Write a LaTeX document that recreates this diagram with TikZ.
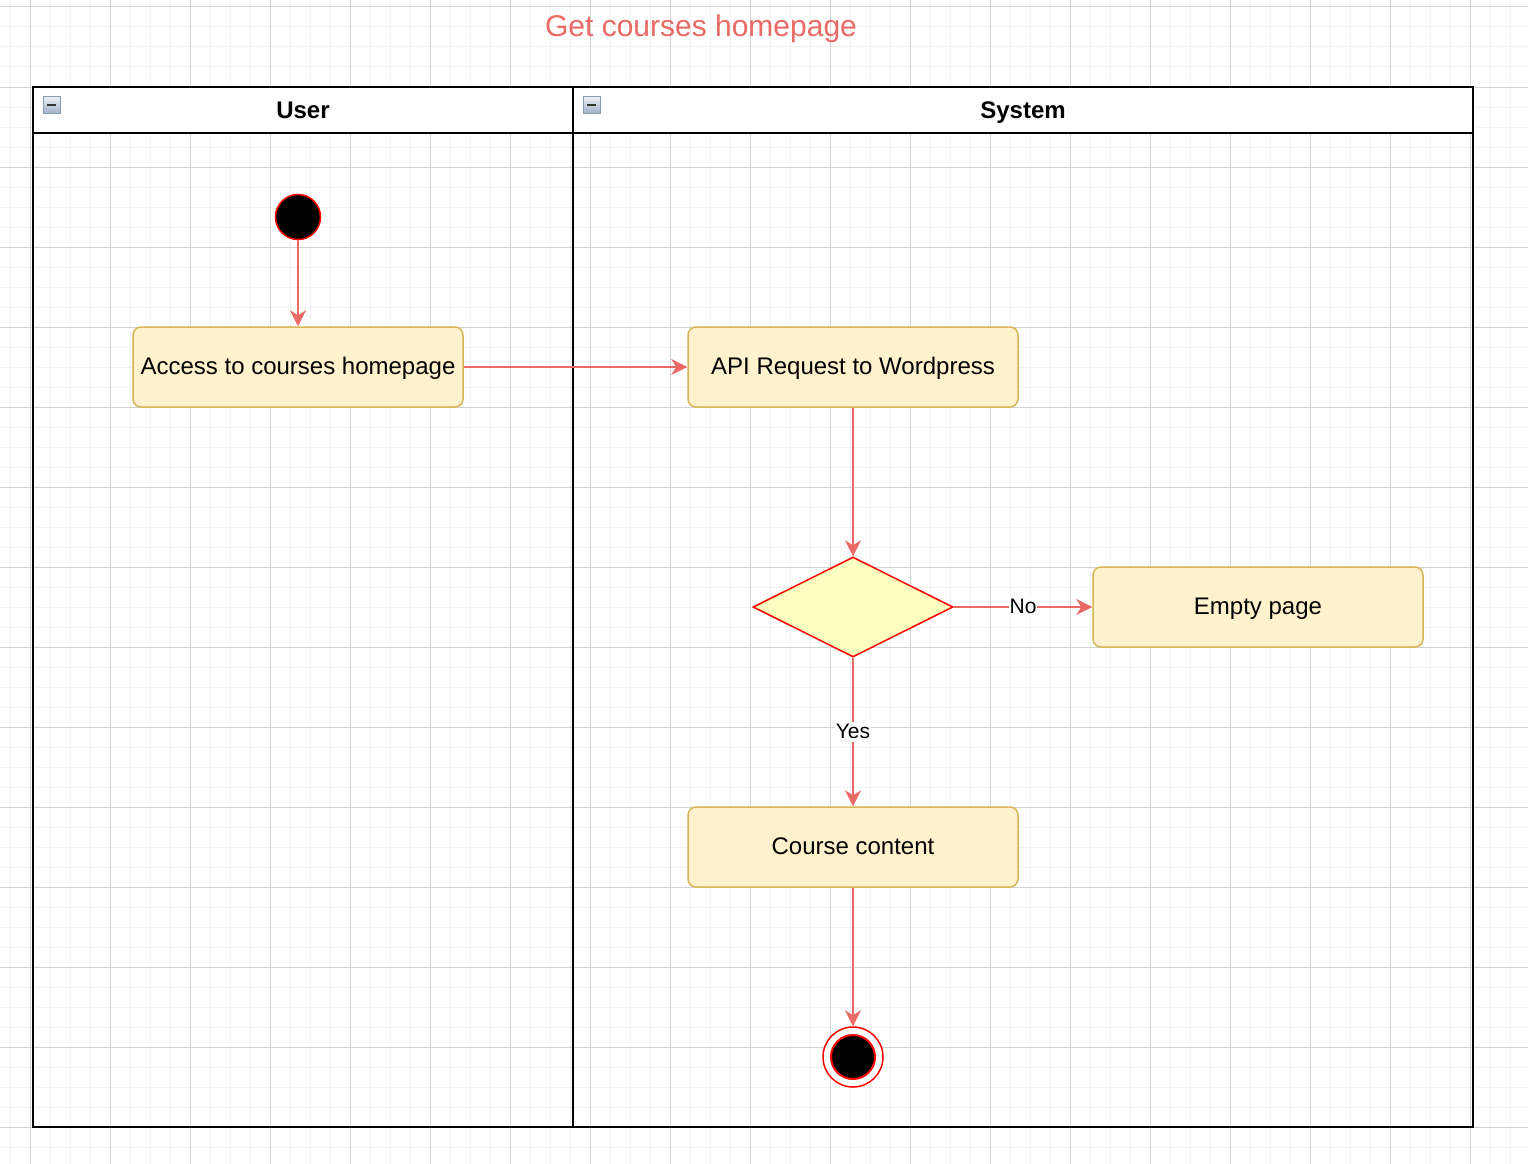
\documentclass[tikz,border=0pt]{standalone}
\usepackage{fontspec}
\setmainfont{Liberation Sans}
\usetikzlibrary{shapes.geometric,arrows.meta}
\definecolor{edgecol}{HTML}{EA6B66}
\definecolor{boxfill}{HTML}{FFF2CC}
\definecolor{boxline}{HTML}{D6B656}
\definecolor{dfill}{HTML}{FFFFC0}
\definecolor{minorgrid}{HTML}{F2F2F2}
\definecolor{majorgrid}{HTML}{D2D2D2}
\definecolor{icontop}{HTML}{EEF2F7}
\definecolor{iconbot}{HTML}{9DB0C6}
\definecolor{iconline}{HTML}{8C9DB2}
\tikzset{
  actbox/.style={rectangle, rounded corners=8pt, minimum width=330pt, minimum height=80pt,
    fill=boxfill, draw=boxline, line width=1.5pt, inner sep=0pt,
    font=\fontsize{24}{28}\selectfont, text height=17.5pt, text depth=2.3pt},
  decision/.style={diamond, minimum width=200pt, minimum height=100pt, inner sep=0pt,
    fill=dfill, draw=red, line width=1.5pt},
  startnode/.style={circle, minimum size=45pt, inner sep=0pt, fill=black, draw=red, line width=1.5pt},
  endouter/.style={circle, minimum size=60pt, inner sep=0pt, fill=white, draw=red, line width=1.5pt},
  endinner/.style={circle, minimum size=44pt, inner sep=0pt, fill=black, draw=red, line width=2pt},
  flow/.style={draw=edgecol, line width=1.5pt, -{Stealth[length=16pt,width=16pt,inset=5pt]}},
  elabel/.style={fill=white, inner sep=1pt, font=\fontsize{21}{24}\selectfont,
    text height=15.3pt, text depth=2.3pt},
  lanetitle/.style={font=\bfseries\fontsize{24}{28}\selectfont, text height=17.5pt, text depth=2.3pt},
  titletext/.style={text=edgecol, font=\fontsize{30}{34}\selectfont, text height=21.9pt, text depth=6.3pt},
  collapse/.style={rectangle, minimum size=17pt, inner sep=0pt, draw=iconline, line width=0.8pt,
    top color=icontop, bottom color=iconbot},
}
\begin{document}
\begin{tikzpicture}[x=1pt,y=-1pt]
\useasboundingbox (0,0) rectangle (1528,1164);
\fill[white] (0,0) rectangle (1528,1164);
% grid
\foreach \x in {10,30,...,1520} \draw[minorgrid,line width=1pt] (\x,0) -- (\x,1164);
\foreach \y in {7,27,...,1160} \draw[minorgrid,line width=1pt] (0,\y) -- (1528,\y);
\foreach \x in {30,110,...,1520} \draw[majorgrid,line width=1pt] (\x,0) -- (\x,1164);
\foreach \y in {7,87,...,1160} \draw[majorgrid,line width=1pt] (0,\y) -- (1528,\y);
% title
\node[titletext] (title) at (701,29) {Get courses homepage};
% pool
\fill[white] (33,87) rectangle (1473,133);
\draw[line width=2pt] (33,87) rectangle (1473,1127);
\draw[line width=2pt] (33,133) -- (1473,133);
\draw[line width=2pt] (573,87) -- (573,1127);
\node[collapse] (c1) at (51.5,105) {};
\draw[black!80, line width=2.5pt] ([xshift=4pt]c1.west) -- ([xshift=-4pt]c1.east);
\node[collapse] (c2) at (591.5,105) {};
\draw[black!80, line width=2.5pt] ([xshift=4pt]c2.west) -- ([xshift=-4pt]c2.east);
\node[lanetitle] (user) at (303,111) {User};
\node[lanetitle] (system) at (1023,111) {System};
% nodes
\node[startnode] (start) at (298,217) {};
\node[actbox] (access) at (298,367) {Access to courses homepage};
\node[actbox] (api) at (853,367) {API Request to Wordpress};
\node[decision] (dec) at (853,607) {};
\node[actbox] (empty) at (1258,607) {Empty page};
\node[actbox] (course) at (853,847) {Course content};
\node[endouter] (endo) at (853,1057) {};
\node[endinner] (endi) at (853,1057) {};
% connectors
\draw[flow] (start) -- (access);
\draw[flow] (access) -- (api);
\draw[flow] (api) -- (dec);
\draw[flow] (dec) -- node[elabel] (nolab) {No} (empty);
\draw[flow] (dec) -- node[elabel] (yeslab) {Yes} (course);
\draw[flow] (course) -- (endo);
\end{tikzpicture}
\end{document}
